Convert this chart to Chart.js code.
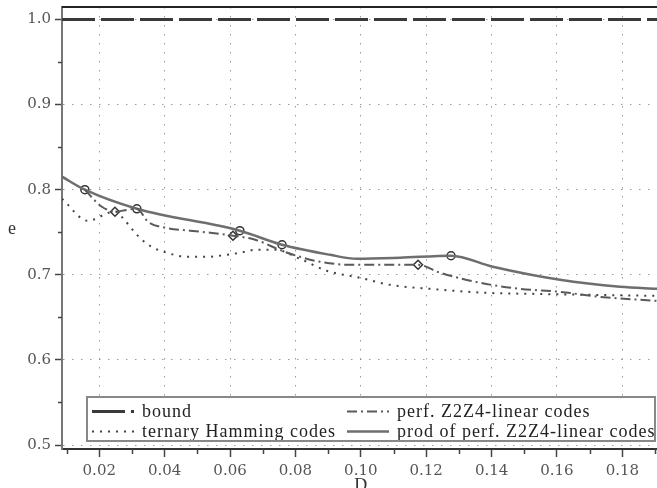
<!DOCTYPE html>
<html>
<head>
<meta charset="utf-8">
<script src="https://cdn.jsdelivr.net/npm/chart.js@4.4.0/dist/chart.umd.min.js"></script>
<style>
  html, body { margin: 0; padding: 0; background: #fff; overflow: hidden; }
  #wrap { width: 657px; height: 488px; position: relative; }
</style>
</head>
<body>
<div id="wrap"><canvas id="chart" width="657" height="488"></canvas></div>
<script>
// ------------------ Data ------------------
const xTickVals = [0.02, 0.04, 0.06, 0.08, 0.10, 0.12, 0.14, 0.16, 0.18];
const xMinorVals = [0.01, 0.03, 0.05, 0.07, 0.09, 0.11, 0.13, 0.15, 0.17, 0.19];
const yTickVals = [0.5, 0.6, 0.7, 0.8, 0.9, 1.0];
const yMinorVals = [0.55, 0.65, 0.75, 0.85, 0.95];

const boundX = [0.0086, 0.1906];
const boundY = [1.0, 1.0];

const ternX = [0.0086, 0.0110, 0.0135, 0.0165, 0.0190, 0.0214, 0.0248, 0.0279, 0.0315, 0.0355,
               0.0407, 0.0468, 0.0530, 0.0591, 0.0630, 0.0677, 0.0738, 0.0814, 0.0896, 0.0997,
               0.1089, 0.1212, 0.1386, 0.1527, 0.1701, 0.1906];
const ternY = [0.7894, 0.7800, 0.7694, 0.7635, 0.7659, 0.7706, 0.7745, 0.7635, 0.7471, 0.7341,
               0.7259, 0.7212, 0.7212, 0.7235, 0.7259, 0.7294, 0.7294, 0.7188, 0.7047, 0.6965,
               0.6882, 0.6835, 0.6788, 0.6776, 0.6765, 0.6753];

const perfX = [0.0156, 0.0187, 0.0208, 0.0248, 0.0279, 0.0315, 0.0349, 0.0401, 0.0478, 0.0539,
               0.0609, 0.0677, 0.0759, 0.0814, 0.0875, 0.0967, 0.1074, 0.1175, 0.1242, 0.1365,
               0.1487, 0.1609, 0.1732, 0.1906];
const perfY = [0.8000, 0.7871, 0.7800, 0.7741, 0.7759, 0.7776, 0.7624, 0.7553, 0.7518, 0.7494,
               0.7459, 0.7412, 0.7282, 0.7212, 0.7153, 0.7118, 0.7118, 0.7118, 0.7024, 0.6906,
               0.6835, 0.6800, 0.6741, 0.6694];
const perfMarkX = [0.0248, 0.0609, 0.1175];
const perfMarkY = [0.7741, 0.7459, 0.7118];

const prodX = [0.0086, 0.0156, 0.0315, 0.0630, 0.0759, 0.0906, 0.0988, 0.1120, 0.1276, 0.1404,
               0.1609, 0.1793, 0.1906];
const prodY = [0.8153, 0.8000, 0.7776, 0.7518, 0.7353, 0.7235, 0.7188, 0.7200, 0.7224, 0.7094,
               0.6941, 0.6859, 0.6835];
const prodMarkX = [0.0156, 0.0315, 0.0630, 0.0759, 0.1276];
const prodMarkY = [0.8000, 0.7776, 0.7518, 0.7353, 0.7224];

const seriesNames = ["bound", "perf. Z2Z4-linear codes", "ternary Hamming codes", "prod of perf. Z2Z4-linear codes"];

// ------------------ Helpers ------------------
const pts = (xs, ys) => xs.map((x, i) => ({ x: x, y: ys[i] }));
const SERIF = "'Liberation Serif', 'DejaVu Serif', serif";

// minor ticks, top frame line, axis letters
const decorPlugin = {
  id: "decor",
  afterDraw(chart) {
    const { ctx, chartArea: a, scales: { x, y } } = chart;
    ctx.save();
    ctx.strokeStyle = "#444";
    ctx.lineWidth = 1.5;
    ctx.beginPath();
    xMinorVals.forEach(v => {
      const px = Math.round(x.getPixelForValue(v)) + 0.5;
      if (px < a.left || px > a.right) return;
      ctx.moveTo(px, a.bottom); ctx.lineTo(px, a.bottom + 5);
    });
    yMinorVals.forEach(v => {
      const py = Math.round(y.getPixelForValue(v)) + 0.5;
      ctx.moveTo(a.left - 4, py); ctx.lineTo(a.left, py);
    });
    ctx.stroke();

    // top frame
    ctx.strokeStyle = "#222";
    ctx.lineWidth = 2;
    ctx.beginPath();
    ctx.moveTo(a.left, a.top); ctx.lineTo(a.right, a.top);
    ctx.stroke();

    // axis letters
    ctx.fillStyle = "#333";
    ctx.font = "18px " + SERIF;
    ctx.textAlign = "center";
    ctx.textBaseline = "middle";
    ctx.fillText("e", 12, 229);
    ctx.fillText("D", x.getPixelForValue(0.10), 486);
    ctx.restore();
  }
};

// boxed two-column legend at the bottom of the plot
const legendPlugin = {
  id: "boxLegend",
  afterDraw(chart) {
    const { ctx, chartArea: a } = chart;
    const ds = chart.data.datasets;
    const bx = a.left + 25, by = a.bottom - 52, bw = a.right - 2 - bx, bh = 44;
    ctx.save();
    ctx.fillStyle = "#fff";
    ctx.fillRect(bx, by, bw, bh);

    const cells = [
      { d: ds[0], sx: bx + 5, row: 0 },
      { d: ds[1], sx: bx + 260, row: 0 },
      { d: ds[2], sx: bx + 5, row: 1 },
      { d: ds[3], sx: bx + 260, row: 1 }
    ];
    ctx.beginPath();
    ctx.rect(bx, by, bw - 1, bh);
    ctx.clip();
    cells.forEach(c => {
      const cy = by + 14.5 + c.row * 20;
      ctx.strokeStyle = c.d.borderColor;
      ctx.lineWidth = c.d.borderWidth;
      ctx.setLineDash(c.d.borderDash || []);
      ctx.beginPath();
      ctx.moveTo(c.sx, cy); ctx.lineTo(c.sx + 42, cy);
      ctx.stroke();
      ctx.setLineDash([]);
      ctx.fillStyle = "#222";
      ctx.font = "18px " + SERIF;
      ctx.letterSpacing = "1px";
      ctx.textAlign = "left";
      ctx.textBaseline = "middle";
      ctx.fillText(c.d.label, c.sx + 50, cy + 1);
      ctx.letterSpacing = "0px";
    });
    ctx.restore();

    ctx.save();
    ctx.strokeStyle = "#888";
    ctx.lineWidth = 2;
    ctx.strokeRect(bx, by, bw, bh);
    ctx.restore();
  }
};

// ------------------ Chart ------------------
new Chart(document.getElementById("chart").getContext("2d"), {
  type: "line",
  data: {
    datasets: [
      {
        label: seriesNames[0], data: pts(boundX, boundY),
        borderColor: "#3a3a3a", borderWidth: 3, borderDash: [33, 6],
        pointRadius: 0
      },
      {
        label: seriesNames[1], data: pts(perfX, perfY),
        borderColor: "#5a5a5a", borderWidth: 2, borderDash: [10, 4, 2, 4],
        pointRadius: 0, cubicInterpolationMode: "monotone"
      },
      {
        label: seriesNames[2], data: pts(ternX, ternY),
        borderColor: "#444", borderWidth: 2, borderDash: [2, 6],
        pointRadius: 0, cubicInterpolationMode: "monotone"
      },
      {
        label: seriesNames[3], data: pts(prodX, prodY),
        borderColor: "#6e6e6e", borderWidth: 2.5,
        pointRadius: 0, cubicInterpolationMode: "monotone"
      },
      {
        label: "prod markers", data: pts(prodMarkX, prodMarkY),
        showLine: false, pointStyle: "circle", pointRadius: 4,
        pointBorderColor: "#333", pointBorderWidth: 1.5, pointBackgroundColor: "rgba(0,0,0,0)"
      },
      {
        label: "perf markers", data: pts(perfMarkX, perfMarkY),
        showLine: false, pointStyle: "rectRot", pointRadius: 4.5,
        pointBorderColor: "#333", pointBorderWidth: 1.5, pointBackgroundColor: "rgba(0,0,0,0)"
      }
    ]
  },
  options: {
    responsive: false,
    animation: false,
    devicePixelRatio: 1,
    layout: { autoPadding: false, padding: { top: 7, right: 0, bottom: 0, left: 0 } },
    plugins: { legend: { display: false }, tooltip: { enabled: false } },
    scales: {
      x: {
        type: "linear", min: 0.0086, max: 0.1906,
        afterBuildTicks: s => { s.ticks = xTickVals.map(v => ({ value: v })); },
        afterFit: s => { s.height = 39; s.paddingLeft = 0; s.paddingRight = 0; },
        ticks: {
          callback: v => v.toFixed(2), color: "#555", padding: 5,
          maxRotation: 0, autoSkip: false,
          font: { family: "'DejaVu Serif', serif", size: 15 }
        },
        grid: { color: "#9a9a9a", lineWidth: 1, tickLength: 8, tickColor: "#444", tickWidth: 1.5 },
        border: { display: true, color: "#333", width: 2, dash: [1.5, 7.5] }
      },
      y: {
        type: "linear", min: 0.4953, max: 1.0147,
        afterBuildTicks: s => { s.ticks = yTickVals.map(v => ({ value: v })); },
        afterFit: s => { s.width = 62; s.paddingTop = 0; s.paddingBottom = 0; },
        ticks: {
          callback: v => v.toFixed(1), color: "#555", padding: 4,
          font: { family: "'DejaVu Serif', serif", size: 15 }
        },
        grid: { color: "#9a9a9a", lineWidth: 1, tickLength: 7, tickColor: "#444", tickWidth: 1.5 },
        border: { display: true, color: "#777", width: 2, dash: [1.5, 7.5] }
      }
    }
  },
  plugins: [decorPlugin, legendPlugin]
});
</script>
</body>
</html>
